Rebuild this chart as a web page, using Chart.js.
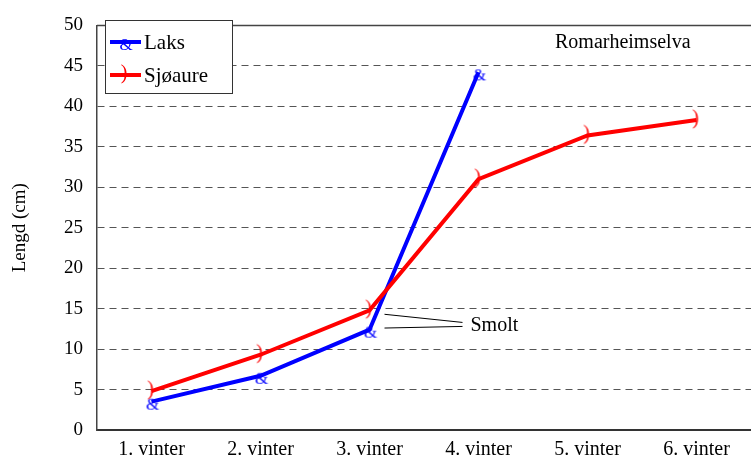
<!DOCTYPE html>
<html>
<head>
<meta charset="utf-8">
<script src="https://cdn.jsdelivr.net/npm/chart.js@4/dist/chart.umd.min.js"></script>
<style>
  html, body { margin: 0; padding: 0; background: #fff; overflow: hidden; }
  canvas { display: block; }
</style>
</head>
<body>
<canvas id="mychart" width="751" height="461"></canvas>
<script>
// data
var Categories = ['1. vinter', '2. vinter', '3. vinter', '4. vinter', '5. vinter', '6. vinter'];
var LaksValues = [3.5, 6.7, 12.4, 44.2, null, null];
var SjoaureValues = [4.8, 9.3, 14.8, 31.0, 36.4, 38.3];
var SeriesNames = ['Laks', 'Sjøaure'];
var PlaceName = 'Romarheimselva';
var SmoltText = 'Smolt';
var SmoltPoints = [14.3, 12.6];   // where the two pointer lines start (at 3. vinter)
var SmoltLabelValue = 12.8;

var FONT = '"Liberation Serif"';

// glyph markers like in the original (symbol font fallback)
function makeMarker(ch, color, size, w, h, dx, dy)
{
	var c = document.createElement('canvas');
	c.width = w;
	c.height = h;
	var g = c.getContext('2d');
	g.fillStyle = color;
	g.font = size + 'px ' + FONT;
	g.textAlign = 'center';
	g.textBaseline = 'middle';
	g.fillText(ch, w / 2 + dx, h / 2 + dy);
	return c;
}

function build()
{
	var laksMarker = makeMarker('&', '#0000ff', 17, 20, 24, 1, 4);
	var sjoMarker = makeMarker(')', '#ff0000', 20, 14, 26, -1, -1);

	// legend box, top line, place name and the smolt pointer
	const extras =
	{
		id: 'extras',
		afterDraw: function(chart)
		{
			var ctx = chart.ctx;
			var a = chart.chartArea;
			var xs = chart.scales.x;
			var ys = chart.scales.y;

			ctx.save();

			// top frame line
			ctx.strokeStyle = '#444';
			ctx.lineWidth = 1.5;
			ctx.beginPath();
			ctx.moveTo(a.left, a.top);
			ctx.lineTo(a.right, a.top);
			ctx.stroke();

			// legend
			ctx.fillStyle = '#fff';
			ctx.fillRect(105, 20, 127, 73);
			ctx.strokeStyle = '#333';
			ctx.lineWidth = 1;
			ctx.strokeRect(105.5, 20.5, 127, 73);

			var rows = [42, 75];
			var markers = [laksMarker, sjoMarker];
			chart.data.datasets.forEach(function(ds, i)
			{
				var yy = rows[i];
				ctx.strokeStyle = ds.borderColor;
				ctx.lineWidth = 4;
				ctx.beginPath();
				ctx.moveTo(110, yy);
				ctx.lineTo(141, yy);
				ctx.stroke();
				var m = markers[i];
				ctx.drawImage(m, 125 - m.width / 2, yy - m.height / 2);
				ctx.fillStyle = '#000';
				ctx.font = '21px ' + FONT;
				ctx.textAlign = 'left';
				ctx.textBaseline = 'middle';
				ctx.fillText(ds.label, 144, yy + 1);
			});

			// place name
			ctx.fillStyle = '#000';
			ctx.font = '20px ' + FONT;
			ctx.textAlign = 'left';
			ctx.textBaseline = 'middle';
			ctx.fillText(PlaceName, 555, 43);

			// smolt pointer
			var x0 = xs.getPixelForValue(2) + 15;
			var lx = x0 + 86;
			var ly = ys.getPixelForValue(SmoltLabelValue);
			ctx.strokeStyle = '#000';
			ctx.lineWidth = 1;
			ctx.beginPath();
			ctx.moveTo(x0, ys.getPixelForValue(SmoltPoints[0]));
			ctx.lineTo(lx - 8, ly - 4);
			ctx.moveTo(x0, ys.getPixelForValue(SmoltPoints[1]));
			ctx.lineTo(lx - 8, ly);
			ctx.stroke();
			ctx.font = '20px ' + FONT;
			ctx.fillText(SmoltText, lx, ly - 1);

			ctx.restore();
		}
	};

	const data =
	{
		labels: Categories,
		datasets:
		[
			{
				label: SeriesNames[0],
				data: LaksValues,
				borderColor: '#0000ff',
				backgroundColor: '#0000ff',
				borderWidth: 4,
				pointStyle: laksMarker,
				pointRadius: 8,
				tension: 0,
				order: 2
			},
			{
				label: SeriesNames[1],
				data: SjoaureValues,
				borderColor: '#ff0000',
				backgroundColor: '#ff0000',
				borderWidth: 4,
				pointStyle: sjoMarker,
				pointRadius: 8,
				tension: 0,
				order: 1
			}
		]
	};

	const config =
	{
		type: 'line',
		data: data,
		plugins: [extras],
		options:
		{
			responsive: false,
			animation: false,
			layout: { autoPadding: false, padding: { top: 17, right: -3, left: 0, bottom: 0 } },
			plugins:
			{
				legend: { display: false },
				tooltip: { enabled: false }
			},
			scales:
			{
				x:
				{
					offset: true,
					grid: { display: false, drawTicks: false },
					border: { display: true, color: '#333', width: 2 },
					ticks:
					{
						color: '#000',
						padding: 8,
						maxRotation: 0,
						font: { family: FONT, size: 20 }
					},
					afterFit: function(s)
					{
						s.height = 31;
						s.paddingLeft = 0;
						s.paddingRight = 0;
					}
				},
				y:
				{
					min: 0,
					max: 50,
					ticks:
					{
						stepSize: 5,
						color: '#000',
						padding: 14,
						font: { family: FONT, size: 19 }
					},
					grid:
					{
						drawTicks: false,
						color: function(c) { return c.tick && c.tick.value > 0 && c.tick.value < 50 ? '#555' : 'rgba(0,0,0,0)'; },
						lineWidth: 1
					},
					border: { display: true, color: '#444', width: 1.5, dash: [7, 5] },
					title:
					{
						display: true,
						text: 'Lengd (cm)',
						color: '#000',
						padding: { top: 9, bottom: 0 },
						font: { family: FONT, size: 19 }
					},
					afterFit: function(s) { s.width = 97; }
				}
			}
		}
	};

	new Chart(document.getElementById('mychart').getContext('2d'), config);
}

document.fonts.load('20px "Liberation Serif"').then(build, build);
</script>
</body>
</html>
